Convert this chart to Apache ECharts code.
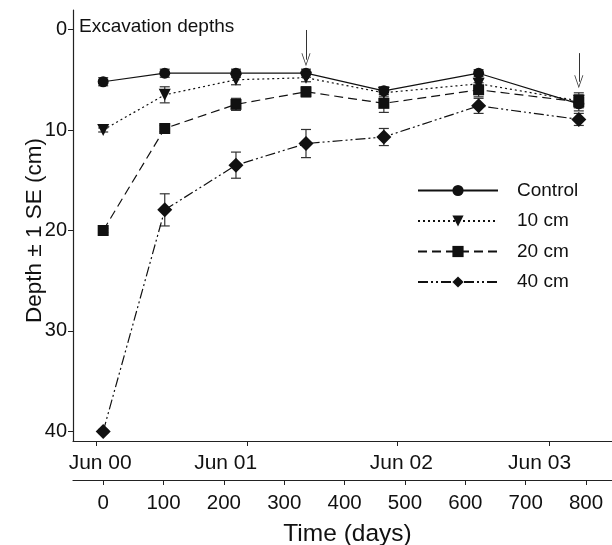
<!DOCTYPE html>
<html>
<head>
<meta charset="utf-8">
<script src="https://cdn.jsdelivr.net/npm/echarts@6/dist/echarts.min.js"></script>
<style>
  html, body { margin: 0; padding: 0; background: #fff; }
  #chart { width: 612px; height: 545px; }
</style>
</head>
<body>
<div id="chart"></div>
<script>
// sampling days
var days = [0, 102, 220, 336, 465, 622, 788];

// mean depth (cm) and standard error per treatment
var control = [5.2, 4.35, 4.35, 4.35, 6.1, 4.35, 7.4];
var controlSE = [0.4, 0.4, 0.4, 0.4, 0.4, 0.35, 0.4];
var cm10 = [10.0, 6.5, 5.0, 4.8, 6.3, 5.4, 7.1];
var cm10SE = [0.2, 0.8, 0.5, 0.4, 0.4, 0.5, 0.6];
var cm20 = [20.0, 9.85, 7.45, 6.2, 7.35, 6.0, 7.2];
var cm20SE = [0.2, 0.3, 0.6, 0.5, 0.9, 0.7, 0.9];
var cm40 = [40.0, 17.95, 13.5, 11.35, 10.7, 7.6, 8.95];
var cm40SE = [0.2, 1.6, 1.3, 1.4, 0.85, 0.75, 0.6];

// date axis (ticks and labels in days)
var dateTickDays = [-12, 238, 488, 739];
var dateLabelDays = [-5, 203, 494, 723];
var dateLabels = ['Jun 00', 'Jun 01', 'Jun 02', 'Jun 03'];

// arrows marking excavation dates
var arrowDays = [336, 788];
var arrowTop = [0.05, 2.35];
var arrowTip = [3.0, 5.2];

var depthTicks = [0, 10, 20, 30, 40];
var dayTicks = [0, 100, 200, 300, 400, 500, 600, 700, 800];

var ink = '#111';
var font = 'Liberation Sans';

function pairs(ys) {
  return days.map(function (d, i) { return [d, ys[i]]; });
}

function errData(ys, se) {
  return days.map(function (d, i) { return [d, ys[i] - se[i], ys[i] + se[i]]; });
}

function errorBars(name, ys, se) {
  return {
    name: name,
    type: 'custom',
    xAxisIndex: 0,
    z: 1,
    silent: true,
    data: errData(ys, se),
    renderItem: function (params, api) {
      var lo = api.coord([api.value(0), api.value(1)]);
      var hi = api.coord([api.value(0), api.value(2)]);
      var w = 5;
      var st = { stroke: '#333', lineWidth: 1.2 };
      return {
        type: 'group',
        children: [
          { type: 'line', shape: { x1: lo[0], y1: lo[1], x2: hi[0], y2: hi[1] }, style: st },
          { type: 'line', shape: { x1: lo[0] - w, y1: lo[1], x2: lo[0] + w, y2: lo[1] }, style: st },
          { type: 'line', shape: { x1: hi[0] - w, y1: hi[1], x2: hi[0] + w, y2: hi[1] }, style: st }
        ]
      };
    }
  };
}

function lineSeries(name, ys, symbol, size, dash, rot) {
  return {
    name: name,
    type: 'line',
    xAxisIndex: 0,
    z: 3,
    data: pairs(ys),
    symbol: symbol,
    symbolSize: size,
    symbolRotate: rot || 0,
    showAllSymbol: true,
    itemStyle: { color: ink, borderWidth: 0 },
    lineStyle: { color: ink, width: 1.2, type: dash },
    emphasis: { disabled: true },
    animation: false
  };
}

var arrowPath = 'path://M5,0 L10,13 L9.1,13 L5,2.2 L0.9,13 L0,13 Z';

var ctl = lineSeries('Control', control, 'circle', 11, 'solid');
ctl.markLine = {
  silent: true,
  symbol: ['none', arrowPath],
  symbolSize: [9, 13],
  label: { show: false },
  lineStyle: { color: '#333', width: 1, type: 'solid' },
  data: arrowDays.map(function (d, i) {
    return [{ coord: [d, arrowTop[i]] }, { coord: [d, arrowTip[i]] }];
  })
};

var chart = echarts.init(document.getElementById('chart'));
chart.setOption({
  animation: false,
  title: {
    text: 'Excavation depths',
    left: 79, top: 17,
    padding: 0,
    textStyle: { fontFamily: font, fontSize: 19, fontWeight: 'normal', color: ink }
  },
  legend: {
    data: ['Control', '10 cm', '20 cm', '40 cm'],
    orient: 'vertical',
    left: 417, top: 181,
    padding: 0,
    itemWidth: 80, itemHeight: 14, itemGap: 11.5,
    textStyle: { fontFamily: font, fontSize: 19, color: ink, padding: [0, 0, 0, 14] },
    selectedMode: false
  },
  grid: { left: 73, right: 0, top: 10, bottom: 104, containLabel: false, outerBoundsMode: 'none' },
  xAxis: [{
    type: 'value',
    position: 'bottom',
    offset: 39,
    min: -50, max: 843,
    name: 'Time (days)',
    nameLocation: 'middle',
    nameGap: 42,
    nameMoveOverlap: false,
    nameTextStyle: { fontFamily: font, fontSize: 24.5, color: ink, padding: [0, 0, 0, 10] },
    axisLine: { show: true, onZero: false, lineStyle: { color: '#222', width: 1.2 } },
    axisTick: { show: true, length: 5, customValues: dayTicks, lineStyle: { color: '#222' } },
    axisLabel: { customValues: dayTicks, margin: 13, fontFamily: font, fontSize: 20.5, color: ink },
    splitLine: { show: false }
  }, {
    type: 'value',
    position: 'bottom',
    offset: 0,
    min: -50, max: 843,
    axisLine: { show: true, onZero: false, lineStyle: { color: '#222', width: 1.2 } },
    axisTick: { show: true, length: 5, customValues: dateTickDays, lineStyle: { color: '#222' } },
    axisLabel: {
      customValues: dateLabelDays,
      margin: 12,
      fontFamily: font, fontSize: 21, color: ink,
      formatter: function (v) {
        var i = dateLabelDays.indexOf(v);
        return i >= 0 ? dateLabels[i] : '';
      }
    },
    splitLine: { show: false }
  }],
  yAxis: {
    type: 'value',
    inverse: true,
    min: -1.94, max: 40.95,
    name: 'Depth \u00b1 1 SE (cm)',
    nameLocation: 'middle',
    nameGap: 27,
    nameMoveOverlap: false,
    nameTextStyle: { fontFamily: font, fontSize: 22.5, color: ink, padding: [0, 10, 0, 0] },
    axisLine: { show: true, onZero: false, lineStyle: { color: '#222', width: 1.2 } },
    axisTick: { show: true, length: 5, customValues: depthTicks, lineStyle: { color: '#222' } },
    axisLabel: { customValues: depthTicks, margin: 6, fontFamily: font, fontSize: 20, color: ink },
    splitLine: { show: false }
  },
  series: [
    errorBars('Control SE', control, controlSE),
    errorBars('10 cm SE', cm10, cm10SE),
    errorBars('20 cm SE', cm20, cm20SE),
    errorBars('40 cm SE', cm40, cm40SE),
    ctl,
    lineSeries('10 cm', cm10, 'triangle', 12, [2, 3], 180),
    lineSeries('20 cm', cm20, 'rect', 11, [9, 5]),
    lineSeries('40 cm', cm40, 'diamond', 15, [10, 3, 2, 3, 2, 3])
  ]
});
</script>
</body>
</html>
